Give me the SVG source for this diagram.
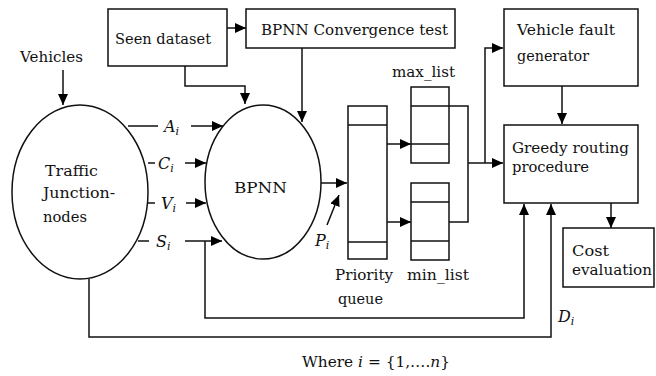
<svg xmlns="http://www.w3.org/2000/svg" width="656" height="376" viewBox="0 0 656 376">
<defs>
<marker id="ah" markerUnits="userSpaceOnUse" markerWidth="12" markerHeight="10" refX="11" refY="5" orient="auto">
<path d="M0,0 L11,5 L0,10 z" fill="#000"/>
</marker>
<style>
.t{font-family:"DejaVu Serif","Liberation Serif",serif;font-size:15px;fill:#111}
.m{font-family:"DejaVu Serif","Liberation Serif",serif;font-size:16px;font-style:italic;fill:#111}
.s{font-size:11px}
.b{fill:#fff;stroke:#111;stroke-width:1.5}
.l{fill:none;stroke:#111;stroke-width:1.5}
.a{fill:none;stroke:#111;stroke-width:1.5;marker-end:url(#ah)}
</style>
</defs>
<rect width="656" height="376" fill="#fff"/>

<g id="connectors">
<path class="a" d="M63,70 V105"/>
<path class="a" d="M227,28 H246"/>
<path class="a" d="M185,66 V86 H245 V104"/>
<path class="a" d="M302,48 V122"/>
<path class="l" d="M128,126 H158"/>
<path class="a" d="M191,126 H223"/>
<path class="l" d="M148,163 H155"/>
<path class="a" d="M185,163 H206"/>
<path class="l" d="M148,203 H155"/>
<path class="a" d="M186,203 H206"/>
<path class="l" d="M138,241 H149"/>
<path class="a" d="M185,241 H222"/>
<path class="a" d="M205,241 V318 H524 V204"/>
<path class="a" d="M89,279 V337 H551 V204"/>
<path class="a" d="M321,183 H347"/>
<path class="a" d="M327,225 L339,195"/>
<path class="a" d="M387,144 H411"/>
<path class="a" d="M387,222 H411"/>
<path class="l" d="M449,106 H468 V222 H449"/>
<path class="a" d="M468,163 H503"/>
<path class="a" d="M485,163 V48 H503"/>
<path class="a" d="M562,86 V124"/>
<path class="a" d="M611,203 V228"/>
</g>

<g id="vehicles"><text class="t" x="20" y="62" textLength="63" lengthAdjust="spacingAndGlyphs">Vehicles</text></g>

<g id="traffic">
<ellipse class="b" cx="80" cy="192" rx="68" ry="87"/>
<text class="t" x="45" y="176" textLength="53" lengthAdjust="spacingAndGlyphs">Traffic</text>
<text class="t" x="43" y="198" textLength="72" lengthAdjust="spacingAndGlyphs">Junction-</text>
<text class="t" x="43" y="222" textLength="44" lengthAdjust="spacingAndGlyphs">nodes</text>
</g>

<g id="seen-dataset">
<rect class="b" x="108" y="9" width="119" height="57"/>
<text class="t" x="115" y="44" textLength="96" lengthAdjust="spacingAndGlyphs">Seen dataset</text>
</g>

<g id="bpnn-test">
<rect class="b" x="246" y="9" width="209" height="39"/>
<text class="t" x="261" y="35" textLength="187" lengthAdjust="spacingAndGlyphs">BPNN Convergence test</text>
</g>

<g id="bpnn">
<ellipse class="b" cx="263" cy="182" rx="58" ry="77"/>
<text class="t" x="234" y="193" textLength="53" lengthAdjust="spacingAndGlyphs">BPNN</text>
</g>

<g id="labels">
<text class="m" x="164" y="132">A<tspan class="s" dy="3">i</tspan></text>
<text class="m" x="158" y="169">C<tspan class="s" dy="3">i</tspan></text>
<text class="m" x="161" y="209">V<tspan class="s" dy="3">i</tspan></text>
<text class="m" x="156" y="247">S<tspan class="s" dy="3">i</tspan></text>
<text class="m" x="315" y="246">P<tspan class="s" dy="3">i</tspan></text>
<text class="m" x="558" y="322">D<tspan class="s" dy="3">i</tspan></text>
</g>

<g id="priority-queue">
<rect class="b" x="348" y="106" width="39" height="153"/>
<path class="l" d="M348,125 H387 M348,242 H387"/>
<text class="t" x="335" y="280" textLength="58" lengthAdjust="spacingAndGlyphs">Priority</text>
<text class="t" x="338" y="304" textLength="45" lengthAdjust="spacingAndGlyphs">queue</text>
</g>

<g id="max-list">
<rect class="b" x="411" y="87" width="38" height="76"/>
<path class="l" d="M411,106 H449 M411,144 H449"/>
<text class="t" x="392" y="77" textLength="63" lengthAdjust="spacingAndGlyphs">max_list</text>
</g>

<g id="min-list">
<rect class="b" x="411" y="183" width="38" height="77"/>
<path class="l" d="M411,202 H449 M411,241 H449"/>
<text class="t" x="407" y="280" textLength="62" lengthAdjust="spacingAndGlyphs">min_list</text>
</g>

<g id="vehicle-fault">
<rect class="b" x="504" y="9" width="134" height="77"/>
<text class="t" x="517" y="35" textLength="98" lengthAdjust="spacingAndGlyphs">Vehicle fault</text>
<text class="t" x="517" y="61" textLength="72" lengthAdjust="spacingAndGlyphs">generator</text>
</g>

<g id="greedy">
<rect class="b" x="504" y="125" width="134" height="78"/>
<text class="t" x="512" y="153" textLength="117" lengthAdjust="spacingAndGlyphs">Greedy routing</text>
<text class="t" x="512" y="172" textLength="77" lengthAdjust="spacingAndGlyphs">procedure</text>
</g>

<g id="cost">
<rect class="b" x="563" y="228" width="91" height="59"/>
<text class="t" x="572" y="256" textLength="37" lengthAdjust="spacingAndGlyphs">Cost</text>
<text class="t" x="572" y="275" textLength="80" lengthAdjust="spacingAndGlyphs">evaluation</text>
</g>

<g id="note">
<text class="t" x="302" y="367" textLength="148" lengthAdjust="spacingAndGlyphs">Where <tspan font-style="italic">i</tspan> = {1,….<tspan font-style="italic">n</tspan>}</text>
</g>
</svg>
